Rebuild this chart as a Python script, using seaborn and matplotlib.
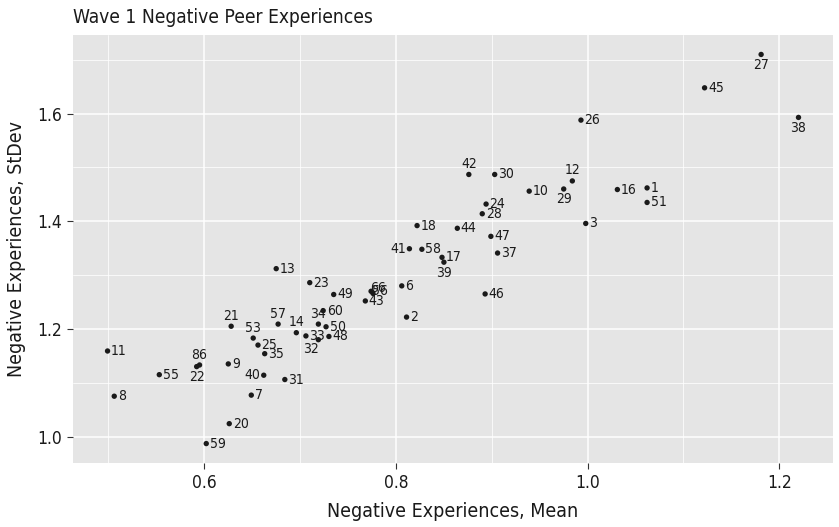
import matplotlib
matplotlib.use("Agg")
import matplotlib.pyplot as plt
import seaborn as sns
import pandas as pd
from matplotlib.ticker import MultipleLocator

ids = ["1", "2", "3", "6", "7", "8", "9", "10", "11", "12", "13", "14", "16", "17",
       "18", "20", "21", "22", "23", "24", "25", "26", "27", "28", "29", "30", "31",
       "32", "33", "34", "35", "37", "38", "39", "40", "41", "42", "43", "44", "45",
       "46", "47", "48", "49", "50", "51", "53", "55", "56", "57", "58", "59", "60",
       "66", "86"]
means = [1.062, 0.811, 0.998, 0.806, 0.649, 0.506, 0.625, 0.939, 0.499, 0.984,
         0.675, 0.696, 1.031, 0.848, 0.822, 0.626, 0.628, 0.592, 0.710, 0.894,
         0.656, 0.993, 1.181, 0.890, 0.975, 0.903, 0.684, 0.719, 0.706, 0.719,
         0.663, 0.906, 1.220, 0.850, 0.662, 0.814, 0.876, 0.768, 0.864, 1.122,
         0.893, 0.899, 0.730, 0.735, 0.727, 1.062, 0.651, 0.553, 0.776, 0.677,
         0.827, 0.602, 0.724, 0.774, 0.595]
sds = [1.462, 1.222, 1.396, 1.280, 1.077, 1.075, 1.135, 1.456, 1.159, 1.475,
       1.312, 1.193, 1.459, 1.333, 1.392, 1.024, 1.205, 1.130, 1.286, 1.432,
       1.170, 1.588, 1.710, 1.414, 1.460, 1.487, 1.106, 1.180, 1.187, 1.209,
       1.154, 1.341, 1.593, 1.324, 1.114, 1.349, 1.487, 1.252, 1.387, 1.648,
       1.265, 1.372, 1.186, 1.264, 1.204, 1.435, 1.183, 1.115, 1.266, 1.209,
       1.348, 0.987, 1.234, 1.270, 1.133]
label_pos = {"21": "a", "86": "a", "53": "a", "57": "a", "14": "a", "34": "a",
             "42": "a", "12": "a", "66": "o", "56": "o",
             "22": "b", "39": "b", "29": "b", "27": "b", "38": "b",
             "40": "l", "41": "l", "32": "bl"}

df = pd.DataFrame({"id": ids, "mean": means, "sd": sds})

sns.set_theme(style="darkgrid", rc={
    "axes.facecolor": "#E5E5E5",
    "grid.color": "white",
})
plt.rcParams["font.family"] = ["DejaVu Sans"]
plt.rcParams["font.stretch"] = "condensed"

fig = plt.figure(figsize=(8.39, 5.27), dpi=100)
ax = fig.add_axes([0.087, 0.1214, 0.9059, 0.8122])

sns.scatterplot(data=df, x="mean", y="sd", ax=ax, color="#1a1a1a", s=15,
                edgecolor="none", linewidth=0, zorder=3)

offsets = {"r": ((2.5, 0), "left", "center"),
           "a": ((0, 2.5), "center", "bottom"),
           "b": ((0, -2.5), "center", "top"),
           "l": ((-2.5, 0), "right", "center"),
           "bl": ((-5, -2), "center", "top"),
           "o": ((5, 2), "center", "center")}
for i, m, s in zip(ids, means, sds):
    code = label_pos.get(i, "r")
    off, ha, va = offsets[code]
    ax.annotate(i, (m, s), xytext=off, textcoords="offset points",
                ha=ha, va=va, fontsize=10, color="#1a1a1a", zorder=4)

xr = max(means) - min(means)
yr = max(sds) - min(sds)
ax.set_xlim(min(means) - 0.05 * xr, max(means) + 0.05 * xr)
ax.set_ylim(min(sds) - 0.05 * yr, max(sds) + 0.05 * yr)

ax.xaxis.set_major_locator(MultipleLocator(0.2))
ax.yaxis.set_major_locator(MultipleLocator(0.2))
ax.xaxis.set_minor_locator(MultipleLocator(0.1))
ax.yaxis.set_minor_locator(MultipleLocator(0.1))
ax.grid(which="major", color="white", linewidth=1.1)
ax.grid(which="minor", color="white", linewidth=0.55)
ax.tick_params(which="major", length=4, width=0.8, color="#333333",
               labelsize=12.5, labelcolor="#1a1a1a", pad=4, bottom=True, left=True)
ax.tick_params(which="minor", length=0)
ax.set_xticklabels([f"{t:.1f}" for t in ax.get_xticks()])
ax.set_yticklabels([f"{t:.1f}" for t in ax.get_yticks()])
for sp in ax.spines.values():
    sp.set_visible(False)

ax.set_xlabel("Negative Experiences, Mean", fontsize=14, color="#1a1a1a", labelpad=7)
ax.set_ylabel("Negative Experiences, StDev", fontsize=14, color="#1a1a1a", labelpad=8)
fig.text(0.087, 0.957, "Wave 1 Negative Peer Experiences", fontsize=13.8,
         color="#1a1a1a", ha="left", va="baseline")

fig.savefig("out.png", dpi=100)
